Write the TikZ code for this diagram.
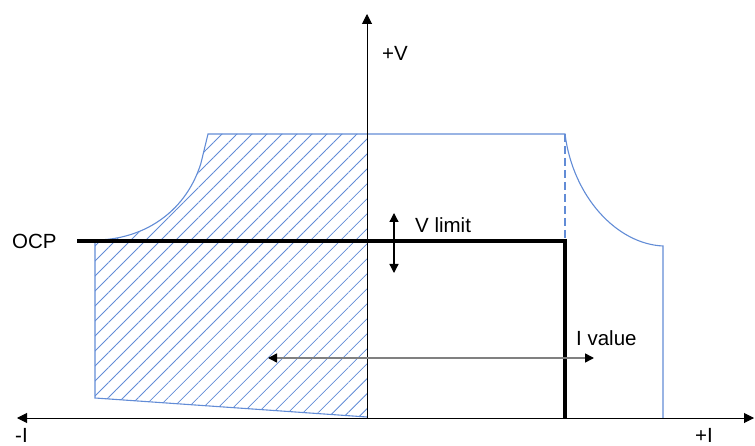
\documentclass[tikz,border=0pt]{standalone}
\usepackage{fontspec}
\setmainfont{Liberation Sans}
\usetikzlibrary{arrows.meta,patterns.meta}
\definecolor{curveblue}{RGB}{98,140,214}
\tikzset{
  axisarr/.style={{Triangle[length=10pt,width=10pt]}-{Triangle[length=10pt,width=10pt]}, line width=1pt},
  limitarr/.style={{Triangle[length=9pt,width=9pt,color=black]}-{Triangle[length=9pt,width=9pt,color=black]}, line width=1.3pt},
  lbl/.style={anchor=west, inner sep=0pt},
}

\begin{document}
\begin{tikzpicture}[
  x=1pt, y=-1pt,
  font=\fontsize{20.5}{24}\selectfont,
  envelope/.style={draw=curveblue, line width=1.1pt},
  hatched/.style={pattern={Lines[angle=45,distance=10.6pt,line width=0.8pt]}, pattern color=curveblue},
  ocpline/.style={line width=3.2pt},
]
  \useasboundingbox (0,0) rectangle (755,446);
  % envelope corners
  \coordinate (O) at (367,418);
  \coordinate (tl) at (208,134);
  \coordinate (kl) at (201,163);
  \coordinate (cl) at (95,240);
  \coordinate (bl) at (95,398);
  \coordinate (br) at (367,417);
  \coordinate (tt) at (367,134);
  \coordinate (tr) at (565,134);
  \coordinate (cr) at (663,246);
  \coordinate (er) at (663,418);
  \coordinate (oc) at (565,241);
  \coordinate (os) at (77,241);
  \coordinate (oe) at (565,418);

  % hatched quadrant
  \fill[hatched] (tl) -- (kl) .. controls (185,215) and (140,240) .. (cl) -- (bl) -- (br) -- (tt) -- cycle;
  \draw[envelope] (br) -- (bl) -- (cl) .. controls (140,240) and (185,215) .. (kl) -- (tl) -- (tr)
    .. controls (573,197) and (617,244) .. (cr) -- (er);
  \draw[envelope, dashed, dash pattern=on 8pt off 4pt] (tr) -- (oc);

  % axes
  \draw[axisarr, -{Triangle[length=10pt,width=10pt]}] (O) -- (367,14) coordinate (ytop);
  \draw[axisarr] (17,418) coordinate (xneg) -- (754,418) coordinate (xpos);

  % OCP / limit line
  \draw[ocpline] (os) -- (oc) -- (oe);

  % adjust arrows
  \coordinate (vtop) at (394,213);
  \coordinate (vbot) at (394,273);
  \draw[limitarr] (vtop) -- (vbot);
  \coordinate (il) at (268,358);
  \coordinate (ir) at (594,358);
  \draw[limitarr, draw=gray, line width=1.5pt] (il) -- (ir);

  % labels
  \node[lbl] (vlab) at (382,53) {+V};
  \node[lbl] (ocp) at (12,241) {OCP};
  \node[lbl] (vlim) at (415,225) {V limit};
  \node[lbl] (ival) at (576,338) {I value};
  \node[lbl] (ineg) at (15,435) {-I};
  \node[lbl] (ipos) at (695,435) {+I};
\end{tikzpicture}
\end{document}
